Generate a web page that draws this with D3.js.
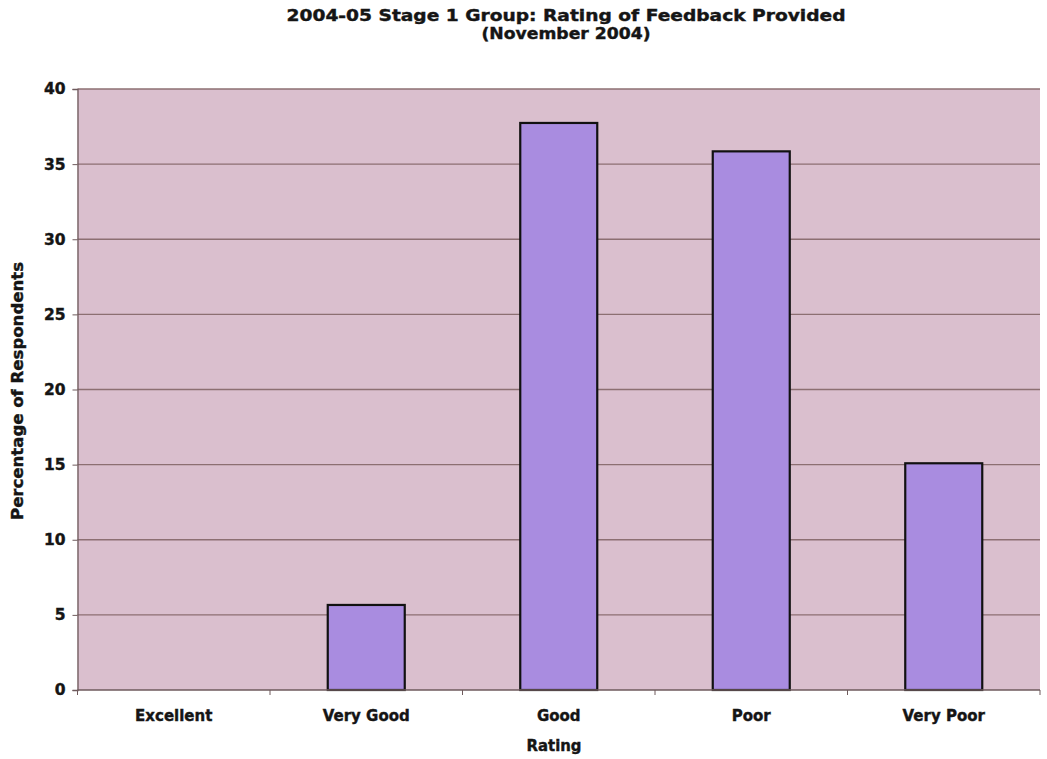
<!DOCTYPE html>
<html>
<head>
<meta charset="utf-8">
<script src="https://cdn.jsdelivr.net/npm/d3@7"></script>
<style>
  html, body { margin: 0; padding: 0; background: #ffffff; }
  svg { display: block; }
  text { font-family: "DejaVu Sans", Verdana, sans-serif; font-weight: bold; fill: #151515;
         stroke: #151515; stroke-width: 0.4px; }
</style>
</head>
<body>
<svg id="chart" width="1047" height="759"></svg>
<script>
// Ratings and share of respondents (%) for each
const categories = ["Excellent", "Very Good", "Good", "Poor", "Very Poor"];
const values = [0, 5.66, 37.74, 35.85, 15.09];
const yTicks = [0, 5, 10, 15, 20, 25, 30, 35, 40];
const titleLines = ["2004-05 Stage 1 Group: Rating of Feedback Provided", "(November 2004)"];
const xTitle = "Rating";
const yTitle = "Percentage of Respondents";

const svg = d3.select("#chart");
const plot = { left: 77.5, right: 1040, top: 89, bottom: 690 };

const x = d3.scaleBand()
  .domain(categories)
  .range([plot.left, plot.right])
  .paddingInner(0.6)
  .paddingOuter(0.3);

const y = d3.scaleLinear()
  .domain([0, 40])
  .range([plot.bottom, plot.top]);

// plot area
svg.append("rect")
  .attr("x", plot.left).attr("y", plot.top)
  .attr("width", plot.right - plot.left).attr("height", plot.bottom - plot.top)
  .attr("fill", "#dabfce");

// horizontal gridlines
svg.append("g")
  .selectAll("line")
  .data(yTicks.filter(d => d > 0))
  .join("line")
  .attr("x1", plot.left).attr("x2", plot.right)
  .attr("y1", d => y(d)).attr("y2", d => y(d))
  .attr("stroke", "#8c6f72").attr("stroke-width", 1.3);

// bars
svg.append("g")
  .selectAll("rect")
  .data(categories.map((c, i) => ({ c, v: values[i] })).filter(d => d.v > 0))
  .join("rect")
  .attr("x", d => x(d.c))
  .attr("y", d => y(d.v))
  .attr("width", x.bandwidth())
  .attr("height", d => y(0) - y(d.v))
  .attr("fill", "#a98ce0")
  .attr("stroke", "#111")
  .attr("stroke-width", 2.2);

// y axis
const yAxis = svg.append("g")
  .attr("transform", `translate(${plot.left},0)`)
  .call(d3.axisLeft(y).tickValues(yTicks).tickSize(5).tickPadding(7));
yAxis.select(".domain").attr("stroke", "#6e5a5c").attr("stroke-width", 1.3);
yAxis.selectAll(".tick line").attr("stroke", "#6e5a5c");
yAxis.selectAll("text")
  .style("font-family", "DejaVu Sans, Verdana, sans-serif")
  .style("font-weight", "bold").style("font-size", "15.5px")
  .attr("fill", "#151515").attr("stroke", "#151515").attr("stroke-width", 0.4);

// x axis: ticks at category boundaries
const boundary = d3.scaleLinear().domain([0, categories.length]).range([plot.left, plot.right]);
const xAxisG = svg.append("g");
xAxisG.append("line")
  .attr("x1", plot.left).attr("x2", plot.right)
  .attr("y1", plot.bottom).attr("y2", plot.bottom)
  .attr("stroke", "#6e5a5c").attr("stroke-width", 1.3);
xAxisG.selectAll("line.tk")
  .data(d3.range(categories.length + 1))
  .join("line").attr("class", "tk")
  .attr("x1", d => boundary(d)).attr("x2", d => boundary(d))
  .attr("y1", plot.bottom).attr("y2", plot.bottom + 5)
  .attr("stroke", "#6e5a5c");
xAxisG.selectAll("text")
  .data(categories)
  .join("text")
  .attr("x", d => x(d) + x.bandwidth() / 2)
  .attr("y", 721)
  .attr("text-anchor", "middle")
  .style("font-size", "15px")
  .text(d => d);

// axis titles
svg.append("text")
  .attr("x", 554).attr("y", 751)
  .attr("text-anchor", "middle")
  .style("font-size", "15px")
  .attr("textLength", 55).attr("lengthAdjust", "spacingAndGlyphs")
  .text(xTitle);

svg.append("text")
  .attr("transform", `translate(23,391) rotate(-90)`)
  .attr("text-anchor", "middle")
  .style("font-size", "15px")
  .attr("textLength", 258).attr("lengthAdjust", "spacingAndGlyphs")
  .text(yTitle);

// chart title
const titleWidths = [559, 169];
svg.append("g").selectAll("text")
  .data(titleLines)
  .join("text")
  .attr("x", 566)
  .attr("y", (d, i) => 21 + i * 18)
  .attr("text-anchor", "middle")
  .style("font-size", "15.5px")
  .attr("textLength", (d, i) => titleWidths[i])
  .attr("lengthAdjust", "spacingAndGlyphs")
  .text(d => d);
</script>
</body>
</html>
